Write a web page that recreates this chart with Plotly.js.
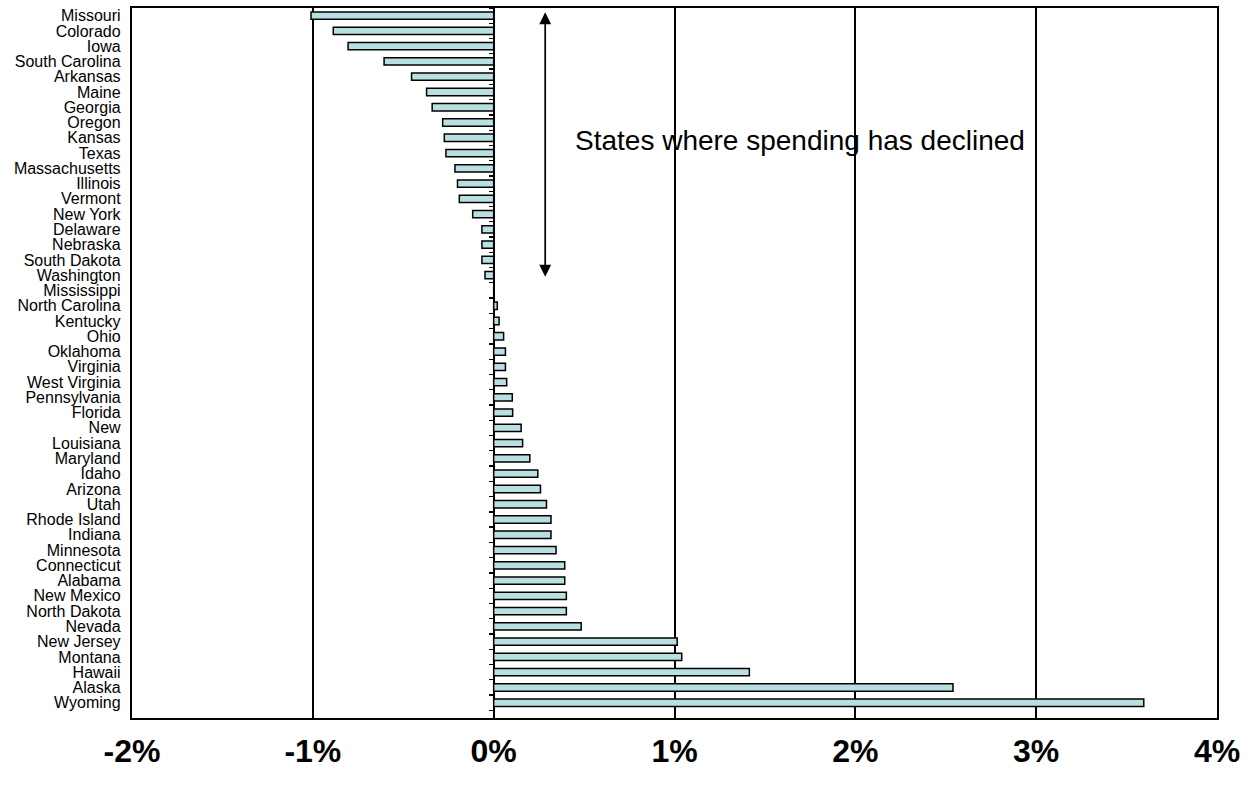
<!DOCTYPE html>
<html>
<head>
<meta charset="utf-8">
<script src="https://cdn.plot.ly/plotly-3.0.1.min.js"></script>
<style>
html, body { margin: 0; padding: 0; background: #ffffff; }
#chart { width: 1251px; height: 798px; }
</style>
</head>
<body>
<div id="chart"></div>
<script>
// Categories (top to bottom)
const states = ["Missouri","Colorado","Iowa","South Carolina","Arkansas","Maine","Georgia","Oregon","Kansas","Texas",
  "Massachusetts","Illinois","Vermont","New York","Delaware","Nebraska","South Dakota","Washington","Mississippi",
  "North Carolina","Kentucky","Ohio","Oklahoma","Virginia","West Virginia","Pennsylvania","Florida","New",
  "Louisiana","Maryland","Idaho","Arizona","Utah","Rhode Island","Indiana","Minnesota","Connecticut","Alabama",
  "New Mexico","North Dakota","Nevada","New Jersey","Montana","Hawaii","Alaska","Wyoming"];

// Change in spending (percent)
const change = [-1.01,-0.887,-0.805,-0.606,-0.454,-0.371,-0.34,-0.282,-0.273,-0.264,
  -0.214,-0.2,-0.19,-0.116,-0.065,-0.065,-0.065,-0.048,0,
  0.02,0.03,0.055,0.065,0.065,0.072,0.103,0.105,0.152,
  0.16,0.2,0.244,0.259,0.292,0.317,0.317,0.345,0.393,0.393,
  0.402,0.402,0.484,1.015,1.04,1.414,2.54,3.595];

// X tick labels
const xTickVals = [-2,-1,0,1,2,3,4];
const xTickText = ["-2%","-1%","0%","1%","2%","3%","4%"];

const annotationText = "States where spending has declined";

const bars = {
  type: "bar",
  orientation: "h",
  x: change,
  y: states,
  marker: { color: "#B8E0E3", line: { color: "#000000", width: 1.5 } },
  hoverinfo: "x+y"
};

// invisible companion trace carrying the categories on the zero-positioned axis (for tick marks)
const ghost = {
  type: "scatter",
  mode: "markers",
  x: change.map(() => 0),
  y: states,
  yaxis: "y2",
  marker: { opacity: 0, size: 1 },
  hoverinfo: "skip",
  showlegend: false
};

const yRange = [46.0, -0.5];

const layout = {
  width: 1251,
  height: 798,
  margin: { l: 132, r: 34, t: 8, b: 80 },
  paper_bgcolor: "#ffffff",
  plot_bgcolor: "#ffffff",
  showlegend: false,
  bargap: 0.52,
  font: { family: "Liberation Sans, Arial, sans-serif", color: "#000000" },
  xaxis: {
    range: [-2, 4],
    tickmode: "array",
    tickvals: xTickVals,
    ticktext: xTickText,
    ticks: "",
    ticklabelstandoff: 3,
    tickfont: { size: 32, weight: "bold", family: "Liberation Sans, Arial, sans-serif", color: "#000000" },
    showgrid: true,
    gridcolor: "#000000",
    gridwidth: 2,
    zeroline: true,
    zerolinecolor: "#000000",
    zerolinewidth: 2,
    showline: true,
    mirror: true,
    linecolor: "#000000",
    linewidth: 2.2,
    fixedrange: true
  },
  yaxis: {
    type: "category",
    categoryorder: "array",
    categoryarray: states,
    range: yRange,
    tickmode: "array",
    tickvals: states,
    ticktext: states,
    ticks: "",
    ticklabelstandoff: 6,
    tickfont: { size: 16, family: "Liberation Sans, Arial, sans-serif", color: "#000000" },
    showgrid: false,
    zeroline: false,
    showline: true,
    mirror: true,
    linecolor: "#000000",
    linewidth: 2.2,
    fixedrange: true
  },
  yaxis2: {
    type: "category",
    categoryorder: "array",
    categoryarray: states,
    range: yRange,
    overlaying: "y",
    anchor: "free",
    position: 1/3,
    side: "left",
    ticks: "outside",
    tickson: "boundaries",
    tickmode: "array",
    tickvals: states,
    ticklen: 5,
    tickwidth: 1.3,
    tickcolor: "#000000",
    showticklabels: false,
    showgrid: false,
    zeroline: false,
    showline: false,
    fixedrange: true
  },
  annotations: [
    {
      xref: "x", yref: "paper",
      x: 0.44, y: 0.814,
      xanchor: "left", yanchor: "middle",
      text: annotationText,
      showarrow: false,
      font: { size: 28, family: "Liberation Sans, Arial, sans-serif", color: "#000000" }
    },
    {
      xref: "x", yref: "paper",
      x: 0.285, y: 0.994,
      text: "",
      showarrow: true,
      arrowside: "end+start",
      arrowhead: 2,
      startarrowhead: 2,
      arrowsize: 1.4,
      startarrowsize: 1.4,
      arrowwidth: 1.7,
      arrowcolor: "#000000",
      ax: 0, ay: 266,
      standoff: 0, startstandoff: 0
    }
  ]
};

Plotly.newPlot("chart", [bars, ghost], layout, { displayModeBar: false, staticPlot: true });
</script>
</body>
</html>
